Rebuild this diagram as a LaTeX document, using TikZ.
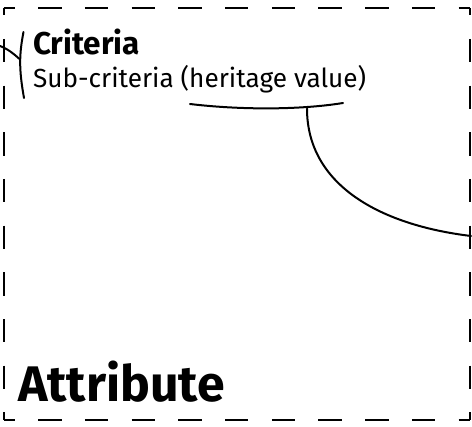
\documentclass[tikz,border=0pt]{standalone}
\usepackage{fontspec}
\setmainfont{Fira Sans}
\begin{document}
\begin{tikzpicture}[x=1pt,y=-1pt,
  frame/.style={line width=2pt,dash pattern=on 23.35pt off 23.35pt},
  link/.style={line width=2pt,line cap=round},
  label/.style={anchor=base west,inner sep=0pt,outer sep=0pt}]
  \useasboundingbox (0,0) rectangle (472,427);
  % frame corners
  \coordinate (tl) at (3.5,8);
  \coordinate (tr) at (469.5,8);
  \coordinate (bl) at (3.5,420);
  \coordinate (br) at (469.5,420);
  % dashed frame, one side at a time so each corner gets a half dash
  \draw[frame,dash phase=11.95pt] (tl) -- (tr);
  \draw[frame,dash phase=11.95pt] (bl) -- (br);
  \draw[frame,dash phase=15.85pt] (tl) -- (bl);
  \draw[frame,dash phase=15.85pt] (tr) -- (br);
  % texts
  \node[label,font=\bfseries\fontsize{31.5}{36}\selectfont] (crit) at (33,55) {Criteria};
  \node[label,font=\fontsize{26.2}{31}\selectfont] (sub) at (33,88) {Sub-criteria (heritage value)};
  \node[label,font=\bfseries\fontsize{50}{60}\selectfont] (attr) at (18,402) {Attribute};
  % bracket and link on the left
  \coordinate (inL) at (0,46);
  \coordinate (brTop) at (23.5,32);
  \coordinate (brMid) at (19.5,59);
  \coordinate (brBot) at (24,98);
  \draw[link] (inL) .. controls (8,49) and (14,54) .. (brMid);
  \draw[link] (brTop) .. controls (19,55) and (19,70) .. (brBot);
  % underline of the sub-criteria and the link out to the right
  \coordinate (ulL) at (190,104);
  \coordinate (ulR) at (343,103);
  \coordinate (ulMid) at (307,108.5);
  \coordinate (outR) at (471,236);
  \draw[link] (ulL) .. controls (240,110) and (300,110) .. (ulR);
  \draw[link] (ulMid) .. controls (307,185) and (380,225) .. (outR);
\end{tikzpicture}
\end{document}
